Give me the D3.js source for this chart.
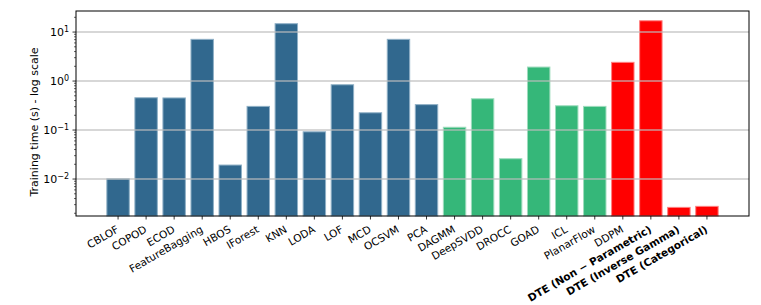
<!DOCTYPE html>
<html>
<head>
<meta charset="utf-8">
<script src="https://cdn.jsdelivr.net/npm/d3@7"></script>
<style>
  body { margin: 0; background: #fff; }
  text { font-family: "DejaVu Sans", sans-serif; }
</style>
</head>
<body>
<svg id="chart" width="761" height="305"></svg>
<script>
// Methods, in drawing order
var methods = ["CBLOF", "COPOD", "ECOD", "FeatureBagging", "HBOS", "IForest", "KNN", "LODA", "LOF", "MCD", "OCSVM", "PCA",
  "DAGMM", "DeepSVDD", "DROCC", "GOAD", "ICL", "PlanarFlow",
  "DDPM", "DTE (Non \u2212 Parametric)", "DTE (Inverse Gamma)", "DTE (Categorical)"];
// training time in seconds
var times = [0.0101, 0.456, 0.452, 7.1, 0.0193, 0.304, 14.8, 0.092, 0.84, 0.225, 7.1, 0.33,
  0.114, 0.435, 0.026, 1.93, 0.313, 0.304,
  2.41, 17.0, 0.00264, 0.00277];
// group of each method: 0 classic, 1 deep, 2 diffusion
var groups = [0,0,0,0,0,0,0,0,0,0,0,0, 1,1,1,1,1,1, 2,2,2,2];
var boldLabels = ["DTE (Non \u2212 Parametric)", "DTE (Inverse Gamma)", "DTE (Categorical)"];
var yTicks = [0.01, 0.1, 1, 10];

var colors = ["#31688e", "#35b779", "#ff0000"];
var edges = ["#8fb0c6", "#9edcbd", "#ff8080"];

var svg = d3.select("svg#chart"),
    margin = {top: 11, right: 12, bottom: 89, left: 76},
    width = +svg.attr("width") - margin.left - margin.right,
    height = +svg.attr("height") - margin.top - margin.bottom;

var g = svg.append("g")
  .attr("transform", "translate(" + margin.left + "," + margin.top + ")");

var x = d3.scaleLinear().domain([-1.5, methods.length + 0.5]).range([0, width]);
var y = d3.scaleLog().domain([0.00176, 26.9]).range([height, 0]);
var bw = x(0.8) - x(0);

// bars
g.selectAll("rect.bar")
  .data(methods)
  .enter().append("rect")
  .attr("class", "bar")
  .attr("x", function(d, i) { return x(i) - bw / 2; })
  .attr("width", bw)
  .attr("y", function(d, i) { return y(times[i]); })
  .attr("height", function(d, i) { return height - y(times[i]); })
  .attr("fill", function(d, i) { return colors[groups[i]]; })
  .attr("stroke", function(d, i) { return edges[groups[i]]; })
  .attr("stroke-width", 1);

// grid on top of the bars
g.selectAll("line.grid")
  .data(yTicks)
  .enter().append("line")
  .attr("class", "grid")
  .attr("x1", 0).attr("x2", width)
  .attr("y1", function(d) { return y(d); })
  .attr("y2", function(d) { return y(d); })
  .attr("stroke", "#bdbdbd")
  .attr("stroke-opacity", 0.8)
  .attr("stroke-width", 1.5);

// frame
g.append("rect")
  .attr("width", width).attr("height", height)
  .attr("fill", "none").attr("stroke", "#000").attr("stroke-width", 1);

// y axis, major + minor ticks
var minor = [];
for (var e = -3; e <= 1; e++) {
  for (var m = 2; m <= 9; m++) {
    var v = m * Math.pow(10, e);
    if (v >= y.domain()[0] && v <= y.domain()[1]) minor.push(v);
  }
}
g.selectAll("line.minor")
  .data(minor)
  .enter().append("line")
  .attr("class", "minor")
  .attr("x1", -2).attr("x2", 0)
  .attr("y1", function(d) { return y(d); })
  .attr("y2", function(d) { return y(d); })
  .attr("stroke", "#000").attr("stroke-width", 0.6);

var yt = g.selectAll("g.ytick")
  .data(yTicks)
  .enter().append("g")
  .attr("class", "ytick")
  .attr("transform", function(d) { return "translate(0," + y(d) + ")"; });
yt.append("line").attr("x1", -3.5).attr("x2", 0).attr("stroke", "#000").attr("stroke-width", 0.8);
var ytext = yt.append("text")
  .attr("x", -7).attr("dy", "0.35em")
  .attr("text-anchor", "end")
  .style("font-size", "11px");
ytext.append("tspan").text("10");
ytext.append("tspan")
  .attr("dy", "-0.45em")
  .style("font-size", "8px")
  .text(function(d) { return String(Math.round(Math.log10(d))).replace("-", "\u2212"); });

g.append("text")
  .attr("transform", "translate(-38,111) rotate(-90)")
  .attr("text-anchor", "middle")
  .style("font-size", "11px")
  .text("Training time (s) - log scale");

// x ticks and rotated labels
var xt = g.selectAll("g.xtick")
  .data(methods)
  .enter().append("g")
  .attr("class", "xtick")
  .attr("transform", function(d, i) { return "translate(" + x(i) + "," + height + ")"; });
xt.append("line").attr("y1", 0).attr("y2", 3.5).attr("stroke", "#000").attr("stroke-width", 0.8);
xt.append("text")
  .attr("transform", "translate(1.5,15.5) rotate(-30)")
  .attr("text-anchor", "end")
  .style("font-size", "10.5px")
  .style("font-weight", function(d) { return boldLabels.indexOf(d) >= 0 ? "bold" : "normal"; })
  .text(function(d) { return d; });
</script>
</body>
</html>
